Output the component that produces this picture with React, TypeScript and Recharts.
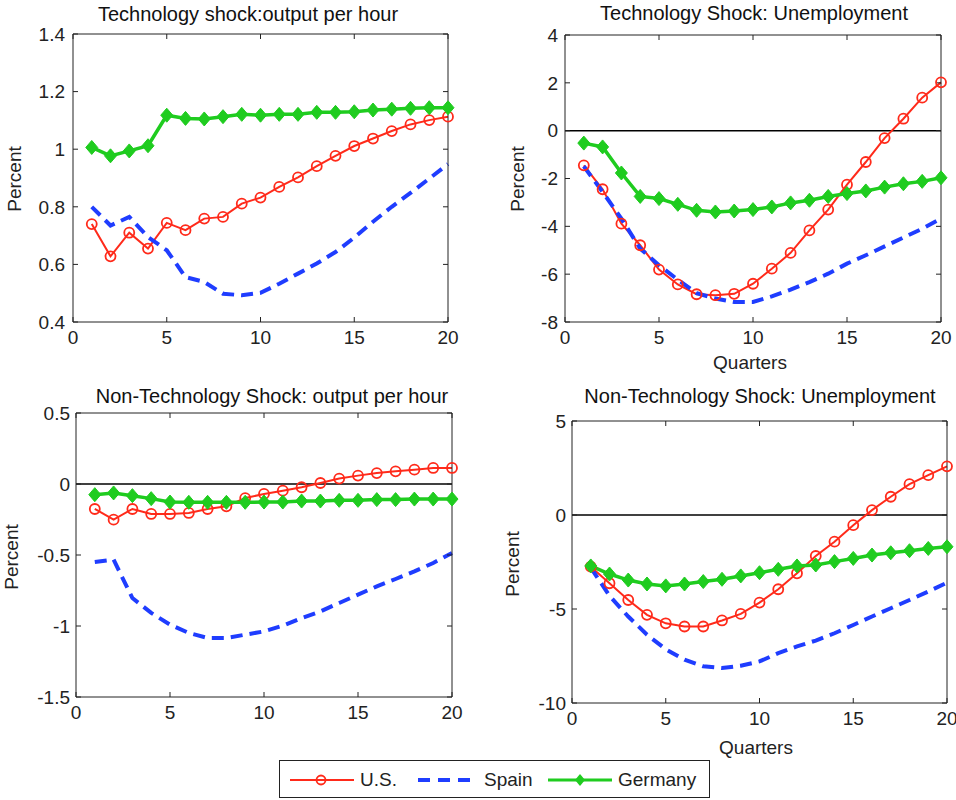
import { Line, LineChart, ReferenceLine, XAxis, YAxis } from "recharts";

const quarters = [1, 2, 3, 4, 5, 6, 7, 8, 9, 10, 11, 12, 13, 14, 15, 16, 17, 18, 19, 20];
const xTicks = [0, 5, 10, 15, 20];

// Technology shock: output per hour
const techOutputUS = [0.74, 0.628, 0.71, 0.655, 0.744, 0.719, 0.759, 0.765, 0.811, 0.832, 0.869, 0.902, 0.941, 0.977, 1.011, 1.037, 1.063, 1.086, 1.101, 1.113];
const techOutputSpain = [0.8, 0.735, 0.765, 0.695, 0.649, 0.556, 0.539, 0.498, 0.493, 0.501, 0.533, 0.568, 0.603, 0.643, 0.693, 0.748, 0.8, 0.848, 0.898, 0.948];
const techOutputGermany = [1.006, 0.977, 0.994, 1.012, 1.118, 1.107, 1.105, 1.113, 1.121, 1.118, 1.121, 1.121, 1.128, 1.128, 1.13, 1.136, 1.139, 1.142, 1.144, 1.144];
const techOutputTicks = [0.4, 0.6, 0.8, 1, 1.2, 1.4];

// Technology shock: unemployment
const techUnempUS = [-1.45, -2.45, -3.89, -4.79, -5.81, -6.43, -6.84, -6.88, -6.82, -6.4, -5.77, -5.11, -4.17, -3.3, -2.26, -1.31, -0.31, 0.5, 1.38, 2.02];
const techUnempSpain = [-1.49, -2.56, -3.68, -4.93, -5.63, -6.23, -6.79, -7.02, -7.16, -7.16, -6.93, -6.65, -6.33, -5.98, -5.56, -5.21, -4.84, -4.47, -4.1, -3.68];
const techUnempGermany = [-0.52, -0.68, -1.77, -2.75, -2.84, -3.08, -3.33, -3.4, -3.36, -3.3, -3.19, -3.02, -2.91, -2.75, -2.63, -2.52, -2.36, -2.22, -2.12, -1.97];
const techUnempTicks = [-8, -6, -4, -2, 0, 2, 4];

// Non-technology shock: output per hour
const nonTechOutputUS = [-0.176, -0.251, -0.176, -0.211, -0.211, -0.204, -0.176, -0.157, -0.099, -0.07, -0.047, -0.023, 0.007, 0.038, 0.059, 0.077, 0.089, 0.101, 0.113, 0.113];
const nonTechOutputSpain = [-0.55, -0.533, -0.803, -0.908, -0.99, -1.049, -1.084, -1.084, -1.061, -1.038, -0.998, -0.944, -0.897, -0.838, -0.779, -0.721, -0.669, -0.615, -0.556, -0.486];
const nonTechOutputGermany = [-0.075, -0.063, -0.082, -0.103, -0.127, -0.129, -0.129, -0.129, -0.129, -0.127, -0.127, -0.12, -0.12, -0.115, -0.115, -0.11, -0.11, -0.106, -0.106, -0.106];
const nonTechOutputTicks = [-1.5, -1, -0.5, 0, 0.5];

// Non-technology shock: unemployment
const nonTechUnempUS = [-2.75, -3.63, -4.52, -5.31, -5.76, -5.93, -5.93, -5.61, -5.26, -4.66, -3.95, -3.1, -2.18, -1.42, -0.54, 0.26, 0.97, 1.64, 2.12, 2.59];
const nonTechUnempSpain = [-2.8, -4.3, -5.4, -6.37, -7.14, -7.7, -8.05, -8.14, -8.02, -7.79, -7.35, -6.99, -6.68, -6.29, -5.85, -5.4, -4.96, -4.52, -4.07, -3.6];
const nonTechUnempGermany = [-2.71, -3.14, -3.46, -3.67, -3.77, -3.67, -3.54, -3.42, -3.24, -3.07, -2.89, -2.71, -2.66, -2.48, -2.31, -2.13, -2.01, -1.9, -1.78, -1.69];
const nonTechUnempTicks = [-10, -5, 0, 5];

const RED = "#ff2a1a";
const BLUE = "#1f3dff";
const GREEN = "#1fcc1f";
const AXIS = "#222";
const FONT = "'Liberation Sans', Arial, sans-serif";

type Row = { q: number; us: number; spain: number; germany: number };

function rows(us: number[], spain: number[], germany: number[]): Row[] {
  return quarters.map((q, i) => ({ q, us: us[i], spain: spain[i], germany: germany[i] }));
}

const germanyDot = (p: any) => {
  const { cx, cy, index } = p;
  if (cx == null || cy == null) return <g key={`gd-${index}`} />;
  return (
    <path
      key={`gd-${index}`}
      d={`M${cx},${cy - 7} L${cx + 6},${cy} L${cx},${cy + 7} L${cx - 6},${cy} Z`}
      fill={GREEN}
      stroke={GREEN}
      strokeWidth={1}
    />
  );
};

type PanelProps = {
  title: string;
  titleX: number;
  titleY: number;
  left: number;
  top: number;
  width: number;
  height: number;
  plotLeft: number;
  plotRight: number;
  plotTop: number;
  plotBottom: number;
  data: Row[];
  domain: [number, number];
  ticks: number[];
  zeroLine?: boolean;
  yGap: number;
  percentX: number;
  percentY: number;
  quartersAt?: [number, number];
};

function Panel(p: PanelProps) {
  return (
    <>
      <div
        style={{
          position: "absolute",
          left: p.titleX,
          top: p.titleY,
          transform: "translate(-50%, -50%)",
          fontSize: 20,
          whiteSpace: "nowrap",
          color: "#111",
        }}
      >
        {p.title}
      </div>
      <div
        style={{
          position: "absolute",
          left: p.percentX,
          top: p.percentY,
          transform: "translate(-50%, -50%) rotate(-90deg)",
          fontSize: 19,
          color: "#222",
        }}
      >
        Percent
      </div>
      {p.quartersAt && (
        <div
          style={{
            position: "absolute",
            left: p.quartersAt[0],
            top: p.quartersAt[1],
            transform: "translate(-50%, -50%)",
            fontSize: 19,
            color: "#222",
          }}
        >
          Quarters
        </div>
      )}
      <div style={{ position: "absolute", left: p.left, top: p.top }}>
        <LineChart
          width={p.width}
          height={p.height}
          data={p.data}
          margin={{
            top: p.plotTop - p.top - 1,
            right: p.left + p.width - p.plotRight - 1,
            bottom: 0,
            left: 0,
          }}
        >
          <XAxis
            dataKey="q"
            type="number"
            domain={[0, 20]}
            ticks={xTicks}
            interval={0}
            height={p.top + p.height - p.plotBottom}
            tickSize={-5}
            tickMargin={14}
            stroke={AXIS}
            tick={{ fill: AXIS, fontSize: 19 }}
          />
          <XAxis
            xAxisId="top"
            orientation="top"
            dataKey="q"
            type="number"
            domain={[0, 20]}
            ticks={xTicks}
            interval={0}
            height={1}
            tickSize={-5}
            tickFormatter={() => ""}
            stroke={AXIS}
          />
          <YAxis
            type="number"
            domain={p.domain}
            ticks={p.ticks}
            interval={0}
            width={p.plotLeft - p.left}
            tickSize={-5}
            tickMargin={5 + p.yGap}
            stroke={AXIS}
            tick={{ fill: AXIS, fontSize: 19 }}
          />
          <YAxis
            yAxisId="right"
            orientation="right"
            dataKey="us"
            type="number"
            domain={p.domain}
            ticks={p.ticks}
            interval={0}
            width={1}
            tickSize={-5}
            tickFormatter={() => ""}
            stroke={AXIS}
          />
          {p.zeroLine && <ReferenceLine y={0} stroke="#000" strokeWidth={1.5} />}
          <Line
            dataKey="us"
            stroke={RED}
            strokeWidth={2}
            dot={{ r: 5, stroke: RED, strokeWidth: 1.8, fill: "none" }}
            isAnimationActive={false}
          />
          <Line
            dataKey="spain"
            stroke={BLUE}
            strokeWidth={4}
            strokeDasharray="12 7"
            dot={false}
            isAnimationActive={false}
          />
          <Line
            dataKey="germany"
            stroke={GREEN}
            strokeWidth={3.5}
            dot={germanyDot}
            isAnimationActive={false}
          />
        </LineChart>
      </div>
    </>
  );
}

function LegendBox() {
  const item = { position: "absolute" as const, top: 0, height: 38, display: "flex", alignItems: "center" };
  return (
    <div
      style={{
        position: "absolute",
        left: 279,
        top: 760,
        width: 429,
        height: 36,
        border: "1.5px solid #222",
        background: "#fff",
        fontSize: 19,
        color: "#222",
      }}
    >
      <div style={{ ...item, left: 10 }}>
        <svg width={64} height={20}>
          <line x1={0} y1={10} x2={64} y2={10} stroke={RED} strokeWidth={2} />
          <circle cx={31} cy={10} r={4.5} stroke={RED} strokeWidth={1.8} fill="none" />
        </svg>
        <span style={{ marginLeft: 6 }}>U.S.</span>
      </div>
      <div style={{ ...item, left: 138 }}>
        <svg width={60} height={20}>
          <line x1={0} y1={10} x2={60} y2={10} stroke={BLUE} strokeWidth={4} strokeDasharray="12 8" />
        </svg>
        <span style={{ marginLeft: 6 }}>Spain</span>
      </div>
      <div style={{ ...item, left: 268 }}>
        <svg width={64} height={20}>
          <line x1={0} y1={10} x2={64} y2={10} stroke={GREEN} strokeWidth={3} />
          <path d="M32,4 L37,10 L32,16 L27,10 Z" fill={GREEN} />
        </svg>
        <span style={{ marginLeft: 6 }}>Germany</span>
      </div>
    </div>
  );
}

export default function App() {
  return (
    <div
      style={{
        position: "absolute",
        left: 0,
        top: 0,
        width: 956,
        height: 800,
        background: "#fff",
        fontFamily: FONT,
      }}
    >
      <Panel
        title="Technology shock:output per hour"
        titleX={248}
        titleY={14}
        left={0}
        top={0}
        width={478}
        height={360}
        plotLeft={73}
        plotRight={448}
        plotTop={34}
        plotBottom={322}
        data={rows(techOutputUS, techOutputSpain, techOutputGermany)}
        domain={[0.4, 1.4]}
        ticks={techOutputTicks}
        yGap={8}
        percentX={15}
        percentY={179}
      />
      <Panel
        title="Technology Shock: Unemployment"
        titleX={754}
        titleY={13}
        left={478}
        top={0}
        width={478}
        height={360}
        plotLeft={565}
        plotRight={941}
        plotTop={35}
        plotBottom={322}
        data={rows(techUnempUS, techUnempSpain, techUnempGermany)}
        domain={[-8, 4]}
        ticks={techUnempTicks}
        zeroLine
        yGap={7}
        percentX={518}
        percentY={179}
        quartersAt={[750, 363]}
      />
      <Panel
        title="Non-Technology Shock: output per hour"
        titleX={272}
        titleY={396}
        left={0}
        top={380}
        width={478}
        height={360}
        plotLeft={76}
        plotRight={452}
        plotTop={413}
        plotBottom={697}
        data={rows(nonTechOutputUS, nonTechOutputSpain, nonTechOutputGermany)}
        domain={[-1.5, 0.5]}
        ticks={nonTechOutputTicks}
        zeroLine
        yGap={6}
        percentX={12}
        percentY={557}
      />
      <Panel
        title="Non-Technology Shock: Unemployment"
        titleX={760}
        titleY={396}
        left={478}
        top={380}
        width={478}
        height={360}
        plotLeft={572}
        plotRight={947}
        plotTop={421}
        plotBottom={703}
        data={rows(nonTechUnempUS, nonTechUnempSpain, nonTechUnempGermany)}
        domain={[-10, 5]}
        ticks={nonTechUnempTicks}
        zeroLine
        yGap={6}
        percentX={513}
        percentY={564}
        quartersAt={[756, 748]}
      />
      <LegendBox />
    </div>
  );
}
